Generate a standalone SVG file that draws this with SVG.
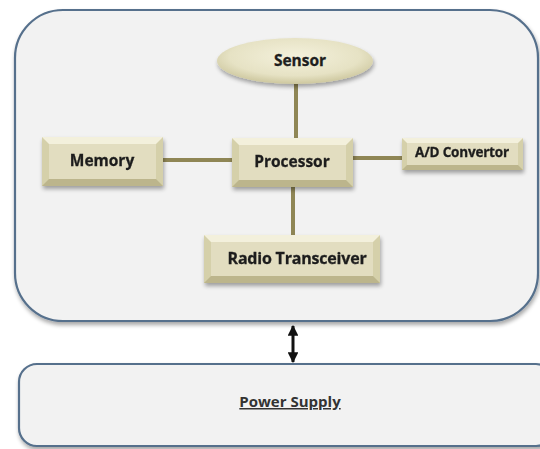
<svg xmlns="http://www.w3.org/2000/svg" width="540" height="449" viewBox="0 0 540 449">
<defs>
<radialGradient id="ell" cx="50%" cy="40%" r="60%">
<stop offset="0" stop-color="#f4f1dc"/>
<stop offset="0.7" stop-color="#e6e2c4"/>
<stop offset="1" stop-color="#cdc79e"/>
</radialGradient>
<filter id="sh" x="-10%" y="-10%" width="130%" height="140%">
<feGaussianBlur in="SourceAlpha" stdDeviation="2"/>
<feOffset dx="1" dy="3" result="b"/>
<feComponentTransfer><feFuncA type="linear" slope="0.35"/></feComponentTransfer>
<feMerge><feMergeNode/><feMergeNode in="SourceGraphic"/></feMerge>
</filter>
<marker id="ah" viewBox="0 0 10 10" refX="9" refY="5" markerWidth="3.6" markerHeight="3.6" orient="auto-start-reverse">
<path d="M0,0 L10,5 L0,10 z" fill="#111"/>
</marker>
</defs>
<style>
.frame{fill:#f2f2f2;stroke:#56708c;stroke-width:2.2}
.side{fill:#d5d0aa}
.top{fill:#f3f0dc}
.bot{fill:#bcb58c}
.face{fill:#e2ddc0}
.lbl{font-family:"Open Sans","Liberation Sans",sans-serif;font-weight:bold;fill:#1e1e1e;text-anchor:middle;stroke:#1e1e1e;stroke-width:0.3}
.conn{stroke:#8f8655;stroke-width:4;fill:none}
</style>
<rect width="540" height="449" fill="#ffffff"/>
<g id="sensor-node-frame">
<rect class="frame" x="15" y="10" width="523" height="311" rx="48" ry="48" filter="url(#sh)"/>
</g>
<g id="power-supply">
<rect class="frame" x="19" y="364" width="535" height="82" rx="18" ry="18" filter="url(#sh)"/>
<text class="lbl" x="290" y="407" font-size="15" style="fill:#333;stroke:none;text-decoration:underline">Power Supply</text>
</g>
<g id="connectors">
<line class="conn" x1="296" y1="84" x2="296" y2="138"/>
<line class="conn" x1="163" y1="160" x2="232" y2="160"/>
<line class="conn" x1="353" y1="158" x2="402" y2="158"/>
<line class="conn" x1="293" y1="187" x2="293" y2="235"/>
<line x1="293" y1="326" x2="293" y2="362" stroke="#111" stroke-width="3" marker-start="url(#ah)" marker-end="url(#ah)"/>
</g>
<g id="sensor">
<ellipse cx="295" cy="61" rx="78" ry="23" fill="url(#ell)" filter="url(#sh)"/>
<text class="lbl" x="300" y="66" font-size="15.5">Sensor</text>
</g>
<g id="memory" filter="url(#sh)">
<rect class="side" x="42" y="137" width="121" height="49"/>
<polygon class="top" points="42,137 163,137 156,144 49,144"/>
<polygon class="bot" points="42,186 163,186 156,179 49,179"/>
<rect class="face" x="49" y="144" width="107" height="35"/>
<text class="lbl" x="102" y="166" font-size="15.5">Memory</text>
</g>
<g id="processor" filter="url(#sh)">
<rect class="side" x="232" y="138" width="121" height="49"/>
<polygon class="top" points="232,138 353,138 346,145 239,145"/>
<polygon class="bot" points="232,187 353,187 346,180 239,180"/>
<rect class="face" x="239" y="145" width="107" height="35"/>
<text class="lbl" x="292" y="167" font-size="15.5">Processor</text>
</g>
<g id="ad-convertor" filter="url(#sh)">
<rect class="side" x="402" y="138" width="121" height="32"/>
<polygon class="top" points="402,138 523,138 518,143 407,143"/>
<polygon class="bot" points="402,170 523,170 518,165 407,165"/>
<rect class="face" x="407" y="143" width="111" height="22"/>
<text class="lbl" x="462" y="157" font-size="13.5" letter-spacing="-0.2">A/D Convertor</text>
</g>
<g id="radio-transceiver" filter="url(#sh)">
<rect class="side" x="204" y="235" width="176" height="48"/>
<polygon class="top" points="204,235 380,235 373,242 211,242"/>
<polygon class="bot" points="204,283 380,283 373,276 211,276"/>
<rect class="face" x="211" y="242" width="162" height="34"/>
<text class="lbl" x="297" y="264" font-size="16" letter-spacing="-0.2">Radio Transceiver</text>
</g>
</svg>
